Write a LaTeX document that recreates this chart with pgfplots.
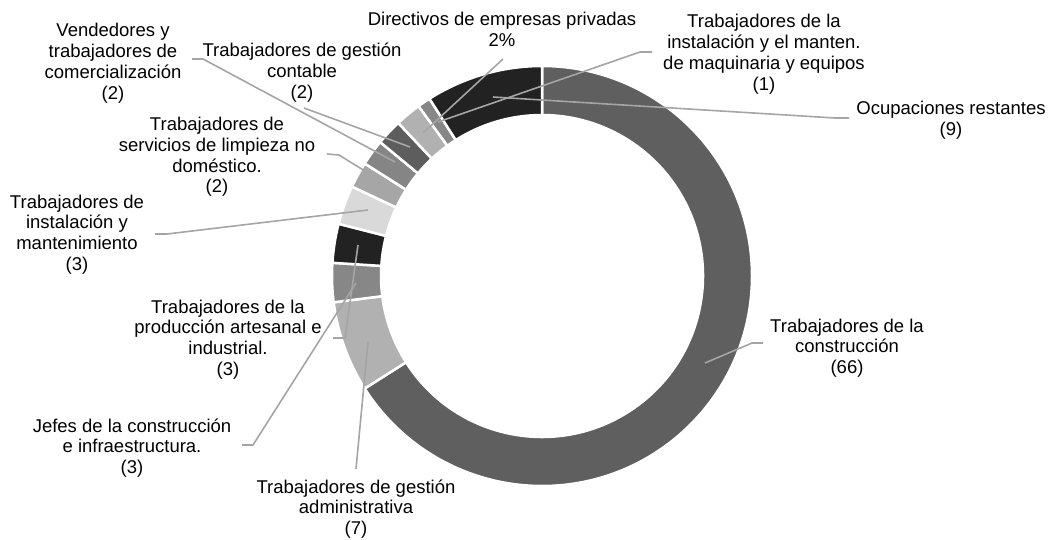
\documentclass[border=0pt]{standalone}
\usepackage{pgfplots}
\usepackage{pgfplotstable}
\pgfplotsset{compat=1.18}
\usepackage{fontspec}
\setmainfont{Liberation Sans}

\definecolor{c1}{HTML}{5F5F5F}
\definecolor{c2}{HTML}{B1B1B1}
\definecolor{c3}{HTML}{878787}
\definecolor{c4}{HTML}{222222}
\definecolor{c5}{HTML}{D9D9D9}
\definecolor{c6}{HTML}{A6A6A6}
\definecolor{c7}{HTML}{858585}
\definecolor{c8}{HTML}{5D5D5D}
\definecolor{c9}{HTML}{B1B1B1}
\definecolor{c10}{HTML}{878787}
\definecolor{c11}{HTML}{222222}
\definecolor{leader}{HTML}{A5A5A5}

% clockwise from 12 o'clock
\pgfplotstableread{
val col
66 c1
7  c2
3  c3
3  c4
3  c5
2  c6
2  c7
2  c8
2  c9
1  c10
9  c11
}\data

\newcommand{\lab}[3]{\node[anchor=base, inner sep=0pt, font=\fontsize{18.5}{20.8}\selectfont] at (axis cs:#1,#2) {\begin{tabular}[t]{@{}c@{}}#3\end{tabular}};}

\begin{document}
\begin{tikzpicture}
\useasboundingbox (0,0) rectangle (1052pt,540pt);
\begin{axis}[at={(0,0)}, anchor=south west, width=1052pt, height=540pt, scale only axis,
  xmin=0, xmax=1052, ymin=0, ymax=540, y dir=reverse, hide axis, clip=false]
\pgfplotstablegetrowsof{\data}
\pgfmathtruncatemacro\N{\pgfplotsretval-1}
\def\cum{0}
\pgfplotsforeachungrouped \i in {0,...,\N}{%
  \pgfplotstablegetelem{\i}{val}\of\data \let\v\pgfplotsretval
  \pgfplotstablegetelem{\i}{col}\of\data \let\c\pgfplotsretval
  \pgfmathsetmacro\aS{90-3.6*\cum}%
  \pgfmathsetmacro\cum{\cum+\v}%
  \pgfmathsetmacro\aE{90-3.6*\cum}%
  \edef\temp{\noexpand\fill[\c, draw=white, line width=2.5pt] (axis cs:542,276) ++(\aS:210pt) arc[start angle=\aS, end angle=\aE, radius=210pt] -- ++(\aE:-49pt) arc[start angle=\aE, end angle=\aS, radius=161pt] -- cycle;}%
  \temp
}

\begin{scope}[leader, line width=1.6pt]
\draw (axis cs:192,59) -- (axis cs:203,59) -- (axis cs:395,162);
\draw (axis cs:304,108) -- (axis cs:410,147);
\draw (axis cs:503,59) -- (axis cs:423,133);
\draw (axis cs:652,52) -- (axis cs:640,52) -- (axis cs:438,122);
\draw (axis cs:849,118) -- (axis cs:835,118) -- (axis cs:493,97);
\draw (axis cs:327,154) -- (axis cs:339,155) -- (axis cs:381,181);
\draw (axis cs:155,234) -- (axis cs:167,234) -- (axis cs:368,210);
\draw (axis cs:333,338) -- (axis cs:345,338) -- (axis cs:358,245);
\draw (axis cs:242,445) -- (axis cs:253,445) -- (axis cs:356,283);
\draw (axis cs:356,469) -- (axis cs:368,342);
\draw (axis cs:763,343) -- (axis cs:752,343) -- (axis cs:705,363);
\end{scope}

\lab{113}{37}{Vendedores y\\trabajadores de\\comercialización\\(2)}
\lab{302}{57}{Trabajadores de gestión\\contable\\(2)}
\lab{502}{26}{Directivos de empresas privadas\\2\%}
\lab{764}{28}{Trabajadores de la\\instalación y el manten.\\de maquinaria y equipos\\(1)}
\lab{951}{115}{Ocupaciones restantes\\(9)}
\lab{217}{130.5}{Trabajadores de\\servicios de limpieza no\\doméstico.\\(2)}
\lab{77}{208}{Trabajadores de\\instalación y\\mantenimiento\\(3)}
\lab{228}{313}{Trabajadores de la\\producción artesanal e\\industrial.\\(3)}
\lab{132}{432}{Jefes de la construcción\\e infraestructura.\\(3)}
\lab{356}{493}{Trabajadores de gestión\\administrativa\\(7)}
\lab{847}{332}{Trabajadores de la\\construcción\\(66)}
\end{axis}
\end{tikzpicture}
\end{document}
